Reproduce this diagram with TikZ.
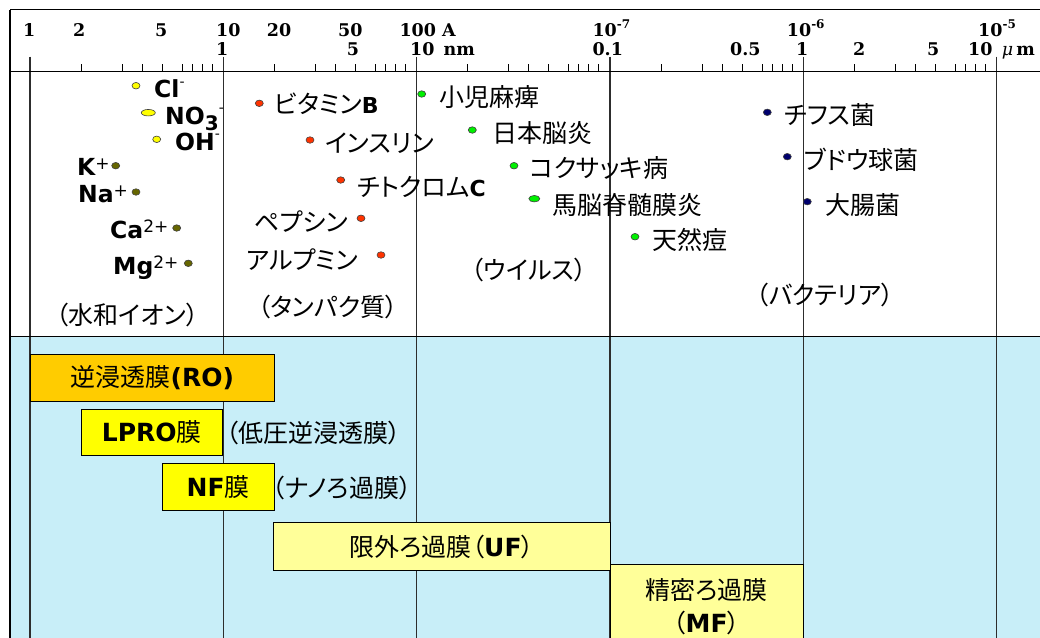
\documentclass[tikz,border=0pt]{standalone}
\usepackage{fontspec}
\usetikzlibrary{shapes.geometric}
\newfontfamily\axf{DejaVu Serif}
\newfontfamily\jpf{Noto Sans CJK JP}[RawFeature=+palt]
\newfontfamily\lat{DejaVu Sans}
\definecolor{bgblue}{RGB}{200,238,248}
\definecolor{roorange}{RGB}{255,204,0}
\definecolor{ylw}{RGB}{255,255,0}
\definecolor{lylw}{RGB}{255,255,153}
\definecolor{olivedot}{RGB}{102,102,0}
\definecolor{reddot}{RGB}{255,51,0}
\definecolor{greendot}{RGB}{0,240,0}
\definecolor{navydot}{RGB}{0,0,110}
\definecolor{gridc}{RGB}{45,45,45}
\newcommand\upm[2]{\raisebox{#1}{\fontsize{17}{17}\selectfont\mdseries #2}}
\newcommand\axsup[1]{\raisebox{8pt}{\fontsize{12}{12}\selectfont #1}}
\begin{document}
\begin{tikzpicture}[x=1pt,y=-1pt,
  ax/.style={font=\axf\bfseries\fontsize{17.5}{17.5}\selectfont, inner sep=0pt, anchor=base west},
  jp/.style={font=\jpf\fontsize{25}{25}\selectfont, inner sep=0pt, anchor=west},
  cat/.style={font=\jpf\fontsize{25}{25}\selectfont, inner sep=0pt},
  ion/.style={font=\lat\bfseries\fontsize{23.5}{23.5}\selectfont, inner sep=0pt, anchor=base west},
  dotn/.style={ellipse, draw=black!75, line width=0.6pt, minimum width=8pt, minimum height=6.5pt, inner sep=0pt},
  memb/.style={draw=black, line width=0.9pt, inner sep=0pt, font=\jpf\fontsize{25}{25}\selectfont},
  gridl/.style={draw=gridc, line width=1.2pt},
  tickl/.style={draw=black, line width=1pt}
]
\useasboundingbox (0,0) rectangle (1040,637);
\clip (0,0) rectangle (1040,637);
% background of the membrane area
\fill[bgblue] (10,336.7) rectangle (1045,640);
% major vertical lines
\foreach \d in {0,...,5} \draw[gridl] ({30+193.333*\d},56.7) -- ({30+193.333*\d},645);
% minor ticks
\foreach \d in {0,...,4} {
  \foreach \o in {51,92,112,132,152,162,172,182} {
    \draw[tickl] ({30+193.333*\d+\o},64) -- ({30+193.333*\d+\o},71.7);
  }
}
% frame lines
\draw[black, line width=1.8pt] (10,9.5) -- (1045,9.5);
\draw[black, line width=1.2pt] (10,9.5) -- (10,645);
\draw[black, line width=1.2pt] (10,71.7) -- (1045,71.7);
\draw[black, line width=1.2pt] (10,336.7) -- (1045,336.7);

% axis labels, first row
\node[ax] (a1) at (23,36) {1};
\node[ax] (a2) at (73,36) {2};
\node[ax] (a5) at (155,36) {5};
\node[ax] (a10) at (216,36) {10};
\node[ax] (a20) at (266.7,36) {20};
\node[ax] (a50) at (338,36) {50};
\node[ax] (a100) at (399.3,36) {100 A};
\node[ax] (e7) at (592.3,36) {10\axsup{-7}};
\node[ax] (e6) at (786.7,36) {10\axsup{-6}};
\node[ax] (e5) at (978,36) {10\axsup{-5}};
% second row
\node[ax] (b1) at (216,55) {1};
\node[ax] (b5) at (346.7,55) {5};
\node[ax] (b10) at (410,55) {10\hspace{9pt}nm};
\node[ax] (b01) at (592.3,55) {0.1};
\node[ax] (b05) at (730,55) {0.5};
\node[ax] (b1u) at (796,55) {1};
\node[ax] (b2u) at (853,55) {2};
\node[ax] (b5u) at (927,55) {5};
\node[ax] (b10u) at (968,55) {10};
\node[ax] (bmu) at (1001.7,55) {{\mdseries\itshape μ}\hspace{3pt}m};

% ions
\node[dotn, fill=ylw] (dcl) at (136,85.7) {};
\node[ion] (cl) at (154,97) {Cl\raisebox{11pt}{\fontsize{14}{14}\selectfont\mdseries -}};
\node[dotn, fill=ylw, minimum width=14pt] (dno) at (148.3,112.7) {};
\node[ion] (no) at (165,124) {NO\raisebox{-6pt}{\fontsize{20}{20}\selectfont 3}\raisebox{12pt}{\fontsize{14}{14}\selectfont\mdseries -}};
\node[dotn, fill=ylw] (doh) at (156.7,139.3) {};
\node[ion] (oh) at (175,150) {OH\raisebox{12pt}{\fontsize{14}{14}\selectfont\mdseries -}};
\node[ion] (k) at (77,175) {K\upm{6pt}{+}};
\node[dotn, fill=olivedot] (dk) at (115.7,165.7) {};
\node[ion] (na) at (78,202) {Na\upm{6pt}{+}};
\node[dotn, fill=olivedot] (dna) at (136,192) {};
\node[ion] (ca) at (110,238) {Ca\upm{6pt}{2+}};
\node[dotn, fill=olivedot] (dca) at (176.7,228) {};
\node[ion] (mg) at (113,274) {Mg\upm{6pt}{2+}};
\node[dotn, fill=olivedot] (dmg) at (188.3,263.3) {};
\node[cat] (cion) at (127.5,315) {（水和イオン）};

% proteins
\node[dotn, fill=reddot] (dvb) at (259.3,103.3) {};
\node[jp] (vb) at (274,104) {ビタミン{\lat\bfseries\fontsize{22}{22}\selectfont B}};
\node[dotn, fill=reddot] (dins) at (310,140) {};
\node[jp] (ins) at (325,143) {インスリン};
\node[dotn, fill=reddot] (dcyt) at (340.7,180) {};
\node[jp] (cyt) at (357,186.7) {チトクロム{\lat\bfseries\fontsize{22}{22}\selectfont C}};
\node[jp] (pep) at (254,221.7) {ペプシン};
\node[dotn, fill=reddot] (dpep) at (361,218.3) {};
\node[jp] (alb) at (246,260) {アルプミン};
\node[dotn, fill=reddot] (dalb) at (381,255) {};
\node[cat] (cprot) at (328,306.7) {（タンパク質）};

% viruses
\node[dotn, fill=greendot] (dpol) at (421.7,94) {};
\node[jp] (pol) at (439,96.7) {小児麻痺};
\node[dotn, fill=greendot] (djap) at (472.3,130) {};
\node[jp] (jap) at (492,133.3) {日本脳炎};
\node[dotn, fill=greendot] (dcox) at (514,165.7) {};
\node[jp] (cox) at (530,168.3) {コクサッキ病};
\node[dotn, fill=greendot, minimum width=11pt] (deq) at (534.3,198.7) {};
\node[jp] (eq) at (552,205) {馬脳脊髄膜炎};
\node[dotn, fill=greendot] (dsp) at (635,236.7) {};
\node[jp] (sp) at (652,240) {天然痘};
\node[cat] (cvir) at (529,270) {（ウイルス）};

% bacteria
\node[dotn, fill=navydot] (dty) at (767.3,112.3) {};
\node[jp] (ty) at (784,115) {チフス菌};
\node[dotn, fill=navydot] (dst) at (787.3,156.7) {};
\node[jp] (st) at (804,160) {ブドウ球菌};
\node[dotn, fill=navydot] (dec) at (807.3,201.7) {};
\node[jp] (ec) at (825,205) {大腸菌};
\node[cat] (cbac) at (825,295) {（バクテリア）};

% membranes
\node[memb, fill=roorange, minimum width=243.3pt, minimum height=47pt] (ro) at (152.3,377.5)
  {逆浸透膜{\lat\bfseries\fontsize{25}{25}\selectfont (RO)}};
\node[memb, fill=ylw, minimum width=141.7pt, minimum height=46pt] (lpro) at (151.8,432.3)
  {{\lat\bfseries\fontsize{25}{25}\selectfont LPRO}膜};
\node[cat, anchor=west] (lprot) at (226,433) {（低圧逆浸透膜）};
\node[memb, fill=ylw, minimum width=111.7pt, minimum height=47pt] (nf) at (218.2,486.8)
  {{\lat\bfseries\fontsize{25}{25}\selectfont NF}膜};
\node[cat, anchor=west] (nft) at (272,488) {（ナノろ過膜）};
\node[memb, fill=lylw, minimum width=336.2pt, minimum height=48.3pt] (uf) at (441.9,546.5)
  {限外ろ過膜（{\lat\bfseries\fontsize{25}{25}\selectfont UF}）};
\node[memb, fill=lylw, minimum width=193.3pt, minimum height=120pt, anchor=north] (mf) at (706.7,563.8) {};
\node[cat] (mft1) at (706.7,590) {精密ろ過膜};
\node[cat] (mft2) at (706.7,622.5) {（{\lat\bfseries\fontsize{25}{25}\selectfont MF}）};
\end{tikzpicture}
\end{document}
